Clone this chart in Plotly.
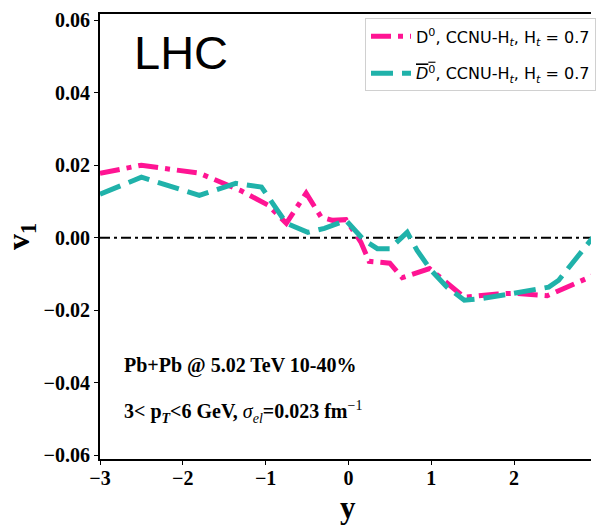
import plotly.graph_objects as go

# D0 (pink, dash-dot)
d0_y_pos = [-3.0, -2.5, -1.8, -1.3, -0.97, -0.75, -0.51, -0.33, -0.19, -0.03, 0.15, 0.25, 0.5, 0.65, 0.98, 1.19, 1.4, 1.8, 2.0, 2.4, 2.95]
d0_v1 = [0.0178, 0.0200, 0.0178, 0.0130, 0.0090, 0.0040, 0.0123, 0.0057, 0.0048, 0.0050, -0.0012, -0.0065, -0.0070, -0.0110, -0.0085, -0.0126, -0.0164, -0.0155, -0.0153, -0.0160, -0.0105]

# D0bar (teal, dashed)
d0bar_y_pos = [-3.0, -2.5, -1.8, -1.36, -1.05, -0.75, -0.49, -0.29, -0.03, 0.19, 0.35, 0.5, 0.71, 0.83, 1.0, 1.19, 1.4, 1.63, 2.0, 2.42, 2.54, 2.95]
d0bar_v1 = [0.0120, 0.0167, 0.0117, 0.0150, 0.0140, 0.0040, 0.0015, 0.0026, 0.0048, -0.0007, -0.0030, -0.0030, 0.0015, -0.0035, -0.0090, -0.0136, -0.0172, -0.0167, -0.0153, -0.0136, -0.0117, 0.0]

x_ticks = [-3, -2, -1, 0, 1, 2]
y_ticks = [-0.06, -0.04, -0.02, 0.00, 0.02, 0.04, 0.06]
y_tick_text = ["<b>\u22120.06</b>", "<b>\u22120.04</b>", "<b>\u22120.02</b>", "<b>0.00</b>", "<b>0.02</b>", "<b>0.04</b>", "<b>0.06</b>"]
x_tick_text = ["<b>\u22123</b>", "<b>\u22122</b>", "<b>\u22121</b>", "<b>0</b>", "<b>1</b>", "<b>2</b>"]

PINK = "#FF1493"
TEAL = "#20B2AA"

fig = go.Figure()
fig.add_trace(go.Scatter(
    x=d0_y_pos, y=d0_v1, mode="lines", legendgroup="a",
    line=dict(color=PINK, width=5, dash="20px,7px,5px,7px"),
    name="D<sup>0</sup>, CCNU-H<sub><i>t</i></sub>, H<sub><i>t</i></sub> = 0.7",
))
fig.add_trace(go.Scatter(
    x=d0bar_y_pos, y=d0bar_v1, mode="lines", legendgroup="b",
    line=dict(color=TEAL, width=5, dash="22px,9px"),
    name="<span style=\"text-decoration:overline\"><i>D</i><sup>0</sup></span>, CCNU-H<sub><i>t</i></sub>, H<sub><i>t</i></sub> = 0.7",
))

fig.add_shape(type="line", xref="paper", yref="y", x0=0, x1=1, y0=0, y1=0,
              line=dict(color="black", width=2, dash="10px,4px,3px,4px"), layer="below")

serif = "Liberation Serif"
fig.add_annotation(x=-2.025, y=0.051, xref="x", yref="y", text="LHC", showarrow=False,
                   font=dict(family="Liberation Sans", size=47, color="black"))
fig.add_annotation(x=-2.73, y=-0.0353, xref="x", yref="y", text="<b>Pb+Pb @ 5.02 TeV 10-40%</b>",
                   showarrow=False, xanchor="left", font=dict(family=serif, size=20, color="black"))
fig.add_annotation(x=-2.73, y=-0.0481, xref="x", yref="y",
                   text="<b>3&lt; p<sub><i>T</i></sub>&lt;6 GeV, </b><i>σ<sub>el</sub></i><b>=0.023 fm</b><sup>−1</sup>",
                   showarrow=False, xanchor="left", font=dict(family=serif, size=20, color="black"))
# x-axis title
fig.add_annotation(x=0, y=-0.109, xref="x", yref="paper", text="<b>y</b>", showarrow=False,
                   yanchor="middle", font=dict(family=serif, size=31, color="black"))

fig.update_layout(
    width=596, height=526,
    margin=dict(l=100, r=0, t=14, b=67),
    plot_bgcolor="white", paper_bgcolor="white",
    showlegend=True,
    legend=dict(x=0.54, y=0.99, xanchor="left", yanchor="top",
                bgcolor="white", bordercolor="#d0d0d0", borderwidth=1,
                font=dict(family="DejaVu Sans", size=16, color="black"),
                itemwidth=40, traceorder="grouped", tracegroupgap=13),
    xaxis=dict(range=[-3, 2.93], tickvals=x_ticks, ticktext=x_tick_text,
               showgrid=False, zeroline=False, showline=True, linecolor="black", linewidth=2,
               mirror=True, ticks="outside", ticklen=4, tickwidth=1, tickcolor="black",
               ticklabelstandoff=-4,
               tickfont=dict(family=serif, size=20, color="black")),
    yaxis=dict(range=[-0.061, 0.0617], tickvals=y_ticks, ticktext=y_tick_text,
               showgrid=False, zeroline=False, showline=True, linecolor="black", linewidth=2,
               ticks="outside", ticklen=4, tickwidth=1, tickcolor="black",
               tickfont=dict(family=serif, size=20, color="black"),
               title=dict(text="<b>v<sub>1</sub></b>", font=dict(family=serif, size=32, color="black"), standoff=12)),
)

fig.write_html("out.html")
